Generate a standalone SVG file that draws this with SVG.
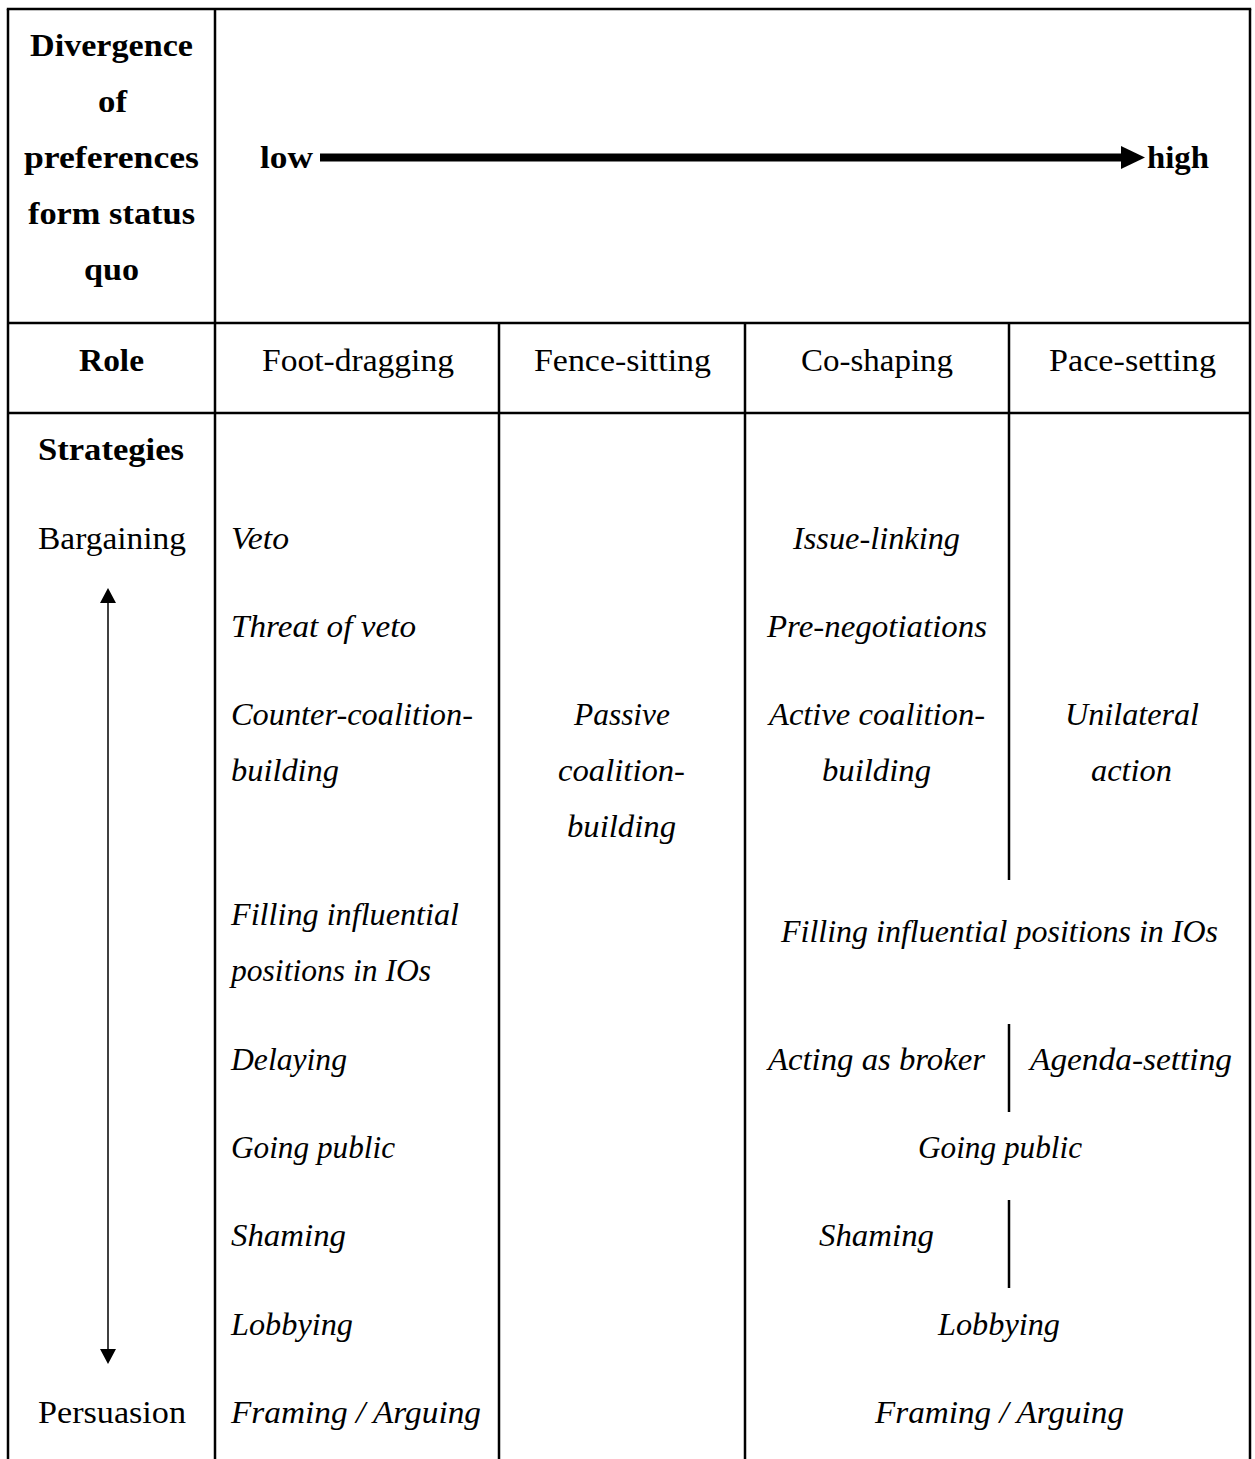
<svg xmlns="http://www.w3.org/2000/svg" width="1255" height="1459" viewBox="0 0 1255 1459">
<style>
text{font-family:"Liberation Serif","DejaVu Serif",serif;font-size:32px;fill:#000}
.b{font-weight:bold}
.i{font-style:italic}
.grid line{stroke:#000;stroke-width:2.5}
</style>
<defs>
<marker id="headBig" markerUnits="userSpaceOnUse" viewBox="0 0 24 23" refX="0" refY="11.5" markerWidth="24" markerHeight="23" orient="auto"><path d="M0,0 L24,11.5 L0,23 z" fill="#000"/></marker>
<marker id="headSmall" markerUnits="userSpaceOnUse" viewBox="0 0 15 16" refX="0" refY="8" markerWidth="15" markerHeight="16" orient="auto-start-reverse"><path d="M0,0 L15,8 L0,16 z" fill="#000"/></marker>
</defs>
<rect width="1255" height="1459" fill="#fff"/>
<g id="grid" class="grid">
<line x1="6.8" y1="9" x2="1251.2" y2="9"/>
<line x1="8" y1="9" x2="8" y2="1459"/>
<line x1="1250" y1="9" x2="1250" y2="1459"/>
<line x1="215" y1="9" x2="215" y2="1459"/>
<line x1="8" y1="323" x2="1250" y2="323"/>
<line x1="8" y1="413" x2="1250" y2="413"/>
<line x1="499" y1="323" x2="499" y2="1459"/>
<line x1="745" y1="323" x2="745" y2="1459"/>
<line x1="1009" y1="323" x2="1009" y2="880"/>
<line x1="1009" y1="1024" x2="1009" y2="1112"/>
<line x1="1009" y1="1200" x2="1009" y2="1288"/>
</g>
<g id="connectors">
<line x1="320" y1="157.5" x2="1121" y2="157.5" stroke="#000" stroke-width="8" marker-end="url(#headBig)"/>
<line x1="108" y1="603" x2="108" y2="1349" stroke="#000" stroke-width="1.5" marker-start="url(#headSmall)" marker-end="url(#headSmall)"/>
</g>
<g id="header">
<text class="b" x="30" y="56" textLength="163" lengthAdjust="spacingAndGlyphs">Divergence</text>
<text class="b" x="98" y="112" textLength="29" lengthAdjust="spacingAndGlyphs">of</text>
<text class="b" x="24" y="168" textLength="175" lengthAdjust="spacingAndGlyphs">preferences</text>
<text class="b" x="28" y="224" textLength="167" lengthAdjust="spacingAndGlyphs">form status</text>
<text class="b" x="84" y="280" textLength="55" lengthAdjust="spacingAndGlyphs">quo</text>
<text class="b" x="260" y="168" textLength="53" lengthAdjust="spacingAndGlyphs">low</text>
<text class="b" x="1147" y="168" textLength="62" lengthAdjust="spacingAndGlyphs">high</text>
</g>
<g id="roles">
<text class="b" x="79" y="371" textLength="65" lengthAdjust="spacingAndGlyphs">Role</text>
<text x="262" y="371" textLength="192" lengthAdjust="spacingAndGlyphs">Foot-dragging</text>
<text x="534" y="371" textLength="177" lengthAdjust="spacingAndGlyphs">Fence-sitting</text>
<text x="801" y="371" textLength="152" lengthAdjust="spacingAndGlyphs">Co-shaping</text>
<text x="1049" y="371" textLength="167" lengthAdjust="spacingAndGlyphs">Pace-setting</text>
</g>
<g id="strategies-axis">
<text class="b" x="38" y="460" textLength="146" lengthAdjust="spacingAndGlyphs">Strategies</text>
<text x="38" y="549" textLength="148" lengthAdjust="spacingAndGlyphs">Bargaining</text>
<text x="38" y="1423" textLength="148" lengthAdjust="spacingAndGlyphs">Persuasion</text>
</g>
<g id="foot-dragging">
<text class="i" x="231" y="549" textLength="58" lengthAdjust="spacingAndGlyphs">Veto</text>
<text class="i" x="231" y="637" textLength="185" lengthAdjust="spacingAndGlyphs">Threat of veto</text>
<text class="i" x="231" y="725" textLength="242" lengthAdjust="spacingAndGlyphs">Counter-coalition-</text>
<text class="i" x="231" y="781" textLength="108" lengthAdjust="spacingAndGlyphs">building</text>
<text class="i" x="231" y="925" textLength="228" lengthAdjust="spacingAndGlyphs">Filling influential</text>
<text class="i" x="231" y="981" textLength="200" lengthAdjust="spacingAndGlyphs">positions in IOs</text>
<text class="i" x="231" y="1070" textLength="116" lengthAdjust="spacingAndGlyphs">Delaying</text>
<text class="i" x="231" y="1158" textLength="164" lengthAdjust="spacingAndGlyphs">Going public</text>
<text class="i" x="231" y="1246" textLength="115" lengthAdjust="spacingAndGlyphs">Shaming</text>
<text class="i" x="231" y="1335" textLength="122" lengthAdjust="spacingAndGlyphs">Lobbying</text>
<text class="i" x="231" y="1423" textLength="250" lengthAdjust="spacingAndGlyphs">Framing / Arguing</text>
</g>
<g id="fence-sitting">
<text class="i" x="574" y="725" textLength="96" lengthAdjust="spacingAndGlyphs">Passive</text>
<text class="i" x="558" y="781" textLength="127" lengthAdjust="spacingAndGlyphs">coalition-</text>
<text class="i" x="567" y="837" textLength="109" lengthAdjust="spacingAndGlyphs">building</text>
</g>
<g id="co-shaping">
<text class="i" x="793" y="549" textLength="167" lengthAdjust="spacingAndGlyphs">Issue-linking</text>
<text class="i" x="767" y="637" textLength="220" lengthAdjust="spacingAndGlyphs">Pre-negotiations</text>
<text class="i" x="769" y="725" textLength="216" lengthAdjust="spacingAndGlyphs">Active coalition-</text>
<text class="i" x="822" y="781" textLength="109" lengthAdjust="spacingAndGlyphs">building</text>
<text class="i" x="768" y="1070" textLength="217" lengthAdjust="spacingAndGlyphs">Acting as broker</text>
<text class="i" x="819" y="1246" textLength="115" lengthAdjust="spacingAndGlyphs">Shaming</text>
</g>
<g id="pace-setting">
<text class="i" x="1065" y="725" textLength="134" lengthAdjust="spacingAndGlyphs">Unilateral</text>
<text class="i" x="1091" y="781" textLength="81" lengthAdjust="spacingAndGlyphs">action</text>
<text class="i" x="1030" y="1070" textLength="202" lengthAdjust="spacingAndGlyphs">Agenda-setting</text>
</g>
<g id="shared">
<text class="i" x="781" y="942" textLength="437" lengthAdjust="spacingAndGlyphs">Filling influential positions in IOs</text>
<text class="i" x="918" y="1158" textLength="164" lengthAdjust="spacingAndGlyphs">Going public</text>
<text class="i" x="938" y="1335" textLength="122" lengthAdjust="spacingAndGlyphs">Lobbying</text>
<text class="i" x="875" y="1423" textLength="249" lengthAdjust="spacingAndGlyphs">Framing / Arguing</text>
</g>
</svg>
